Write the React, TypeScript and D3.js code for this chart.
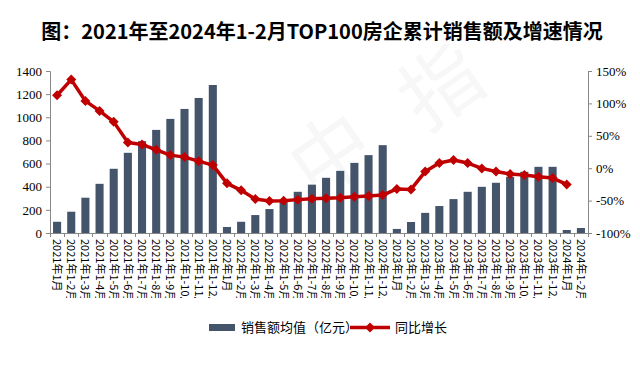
import React, { useRef, useEffect } from "react";
import * as d3 from "d3";

const categories = [
  "2021年1月", "2021年1-2月", "2021年1-3月", "2021年1-4月", "2021年1-5月", "2021年1-6月",
  "2021年1-7月", "2021年1-8月", "2021年1-9月", "2021年1-10月", "2021年1-11月", "2021年1-12月",
  "2022年1月", "2022年1-2月", "2022年1-3月", "2022年1-4月", "2022年1-5月", "2022年1-6月",
  "2022年1-7月", "2022年1-8月", "2022年1-9月", "2022年1-10月", "2022年1-11月", "2022年1-12月",
  "2023年1月", "2023年1-2月", "2023年1-3月", "2023年1-4月", "2023年1-5月", "2023年1-6月",
  "2023年1-7月", "2023年1-8月", "2023年1-9月", "2023年1-10月", "2023年1-11月", "2023年1-12月",
  "2024年1月", "2024年1-2月",
];

// 销售额均值（亿元）
const sales = [
  97, 184, 305, 425, 555, 693, 794, 891, 986, 1072, 1167, 1279,
  52, 97, 155, 207, 290, 356, 418, 477, 537, 606, 673, 759,
  35, 95, 174, 233, 293, 356, 399, 434, 486, 529, 572, 572,
  26, 43,
];

// 同比增长（%）
const growth: (number | null)[] = [
  112.6, 136.7, 103.8, 88.4, 71.5, 39.7, 36.6, 28.3, 20.2, 17.1, 10.9, 4.8,
  -23.4, -34.2, -47.6, -50.7, -50.3, -48.5, -47.2, -46.5, -45.5, -44, -43, -41.5,
  -32, -32.7, -5.2, 8, 12.7, 8, -0.3, -5.2, -9, -10.6, -13.2, -15.2,
  -25, null,
];

const leftTicks = [0, 200, 400, 600, 800, 1000, 1200, 1400];
const rightTicks = [-100, -50, 0, 50, 100, 150];

const title = "图：2021年至2024年1-2月TOP100房企累计销售额及增速情况";

export default function App() {
  const ref = useRef<SVGSVGElement>(null);
  const width = 640;
  const height = 365;

  useEffect(() => {
    const svg = d3.select(ref.current);
    svg.selectAll("*").remove();

    const left = 50, right = 588, top = 71, bottom = 233;
    const barColor = "#44546A";
    const lineColor = "#C00000";
    const axisColor = "#888";
    const cjk = "'Noto Sans CJK SC', sans-serif";
    const serif = "'Liberation Serif', serif";

    // 水印
    const wm = [
      { t: "中", x: 335, y: 160 },
      { t: "指", x: 445, y: 92 },
    ];
    svg.append("g")
      .selectAll("text")
      .data(wm)
      .enter()
      .append("text")
      .attr("transform", d => `translate(${d.x},${d.y}) rotate(-35)`)
      .attr("text-anchor", "middle")
      .attr("dominant-baseline", "middle")
      .attr("font-family", cjk)
      .attr("font-size", 80)
      .attr("fill", "#f7f7f7")
      .text(d => d.t);

    // 标题
    svg.append("text")
      .attr("x", 322)
      .attr("y", 39)
      .attr("text-anchor", "middle")
      .attr("font-family", cjk)
      .attr("font-weight", "bold")
      .attr("font-size", 20)
      .attr("fill", "#000")
      .text(title);

    const x = d3.scaleBand()
      .domain(categories)
      .range([left, right])
      .paddingInner(0.43)
      .paddingOuter(0.215);

    const y = d3.scaleLinear().domain([0, 1400]).range([bottom, top]);
    const y2 = d3.scaleLinear().domain([-100, 150]).range([bottom, top]);

    // 柱
    svg.append("g")
      .selectAll("rect")
      .data(sales)
      .enter()
      .append("rect")
      .attr("x", (_, i) => x(categories[i])!)
      .attr("width", x.bandwidth())
      .attr("y", d => y(d))
      .attr("height", d => bottom - y(d))
      .attr("fill", barColor);

    // 左轴
    const gl = svg.append("g").attr("transform", `translate(${left},0)`)
      .call(d3.axisLeft(y).tickValues(leftTicks).tickSize(4).tickPadding(4).tickFormat(d => String(d)));
    gl.select(".domain").attr("stroke", axisColor);
    gl.selectAll(".tick line").attr("stroke", axisColor);
    gl.selectAll("text").attr("font-family", serif).attr("font-size", 13).attr("fill", "#000");

    // 右轴
    const gr = svg.append("g").attr("transform", `translate(${right},0)`)
      .call(d3.axisRight(y2).tickValues(rightTicks).tickSize(4).tickPadding(4).tickFormat(d => `${d}%`));
    gr.select(".domain").attr("stroke", axisColor);
    gr.selectAll(".tick line").attr("stroke", axisColor);
    gr.selectAll("text").attr("font-family", serif).attr("font-size", 13).attr("fill", "#000");

    // X轴
    const step = x.step();
    svg.append("line")
      .attr("x1", left).attr("x2", right)
      .attr("y1", bottom + 0.5).attr("y2", bottom + 0.5)
      .attr("stroke", axisColor);
    svg.append("g")
      .selectAll("line")
      .data(d3.range(categories.length + 1))
      .enter()
      .append("line")
      .attr("x1", k => Math.round(left + k * step) + 0.5)
      .attr("x2", k => Math.round(left + k * step) + 0.5)
      .attr("y1", bottom)
      .attr("y2", bottom + 4)
      .attr("stroke", axisColor);

    svg.append("clipPath").attr("id", "lblclip")
      .append("rect").attr("x", 0).attr("y", 236).attr("width", width).attr("height", 62);

    svg.append("g")
      .attr("clip-path", "url(#lblclip)")
      .selectAll("text")
      .data(categories)
      .enter()
      .append("text")
      .attr("transform", d => `translate(${x(d)! + x.bandwidth() / 2 - 4},${bottom + 6}) rotate(90)`)
      .attr("font-family", cjk)
      .attr("font-size", 11)
      .attr("fill", "#000")
      .text(d => d);

    // 折线
    const pts = growth
      .map((v, i) => ({ v, c: categories[i] }))
      .filter(d => d.v !== null) as { v: number; c: string }[];
    const cx = (d: { c: string }) => x(d.c)! + x.bandwidth() / 2;

    const line = d3.line<{ v: number; c: string }>()
      .x(cx)
      .y(d => y2(d.v));

    svg.append("path")
      .datum(pts)
      .attr("d", line)
      .attr("fill", "none")
      .attr("stroke", lineColor)
      .attr("stroke-width", 3.5)
      .attr("stroke-linejoin", "round");

    const diamond = (px: number, py: number, r: number) =>
      `M${px},${py - r}L${px + r},${py}L${px},${py + r}L${px - r},${py}Z`;

    svg.append("g")
      .selectAll("path")
      .data(pts)
      .enter()
      .append("path")
      .attr("d", d => diamond(cx(d), y2(d.v), 5))
      .attr("fill", lineColor);

    // 图例
    const lg = svg.append("g");
    lg.append("rect").attr("x", 209).attr("y", 324).attr("width", 26).attr("height", 7).attr("fill", barColor);
    lg.append("text").attr("x", 241).attr("y", 332).attr("font-family", cjk).attr("font-size", 13)
      .attr("fill", "#000").text("销售额均值（亿元）");
    lg.append("line").attr("x1", 350).attr("x2", 390).attr("y1", 327.5).attr("y2", 327.5)
      .attr("stroke", lineColor).attr("stroke-width", 3.5);
    lg.append("path").attr("d", diamond(370, 327.5, 5)).attr("fill", lineColor);
    lg.append("text").attr("x", 395).attr("y", 332).attr("font-family", cjk).attr("font-size", 13)
      .attr("fill", "#000").text("同比增长");
  }, []);

  return (
    <svg
      ref={ref}
      width={width}
      height={height}
      style={{ position: "absolute", left: 0, top: 0, background: "#fff" }}
    />
  );
}
